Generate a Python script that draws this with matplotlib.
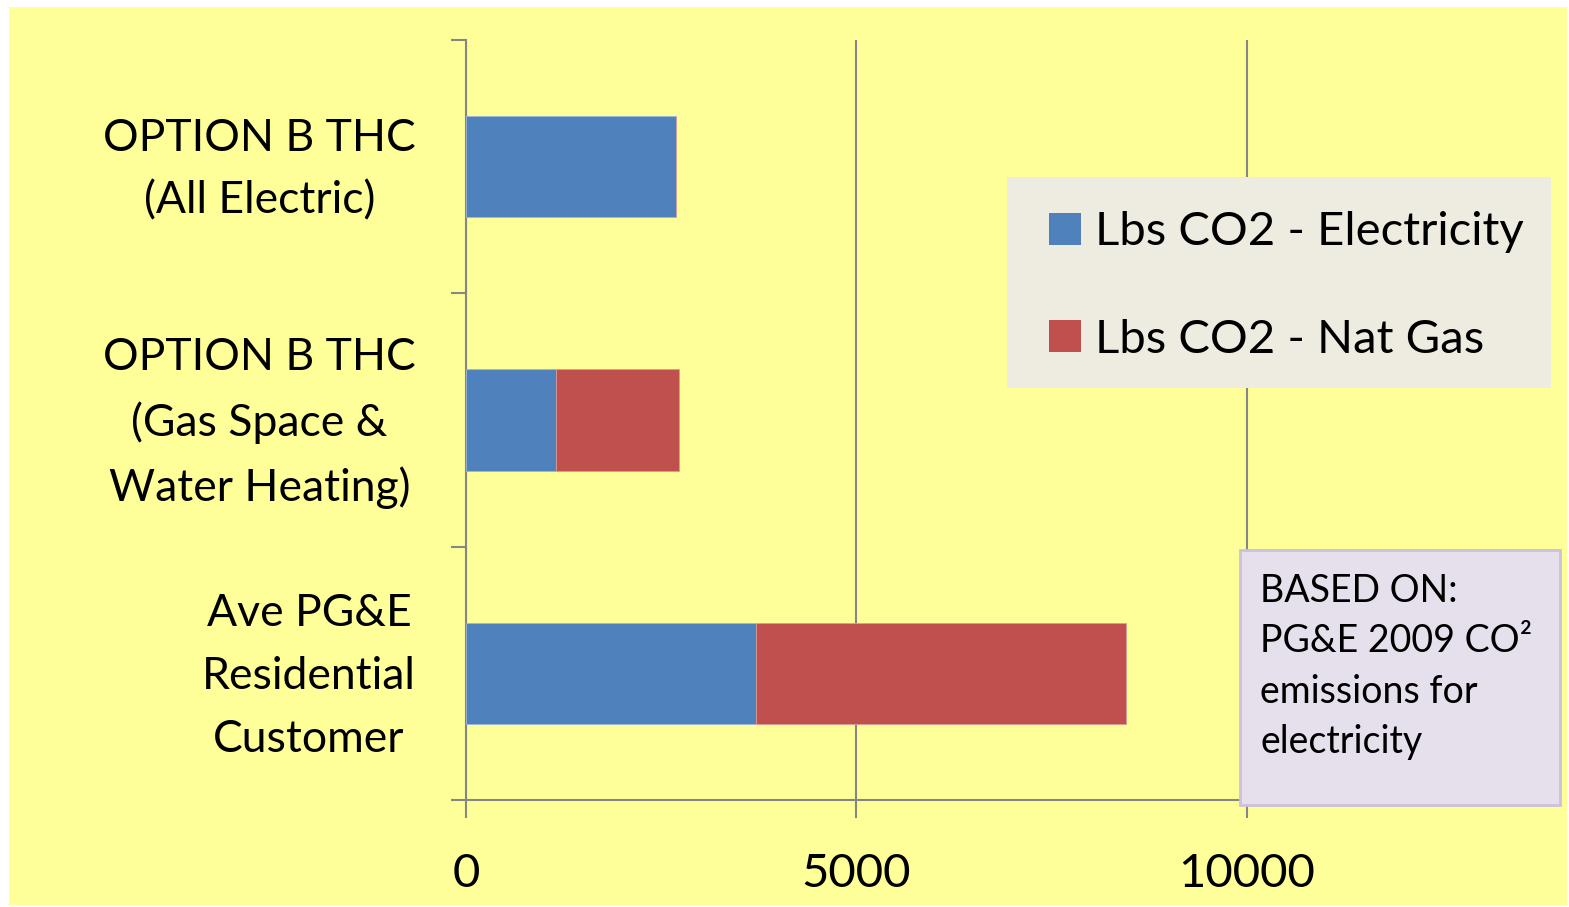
import matplotlib.pyplot as plt
from matplotlib.patches import Rectangle, Patch
from matplotlib.transforms import ScaledTranslation

# data
categories = ['OPTION B THC\n(All Electric)',
              'OPTION B THC\n(Gas Space &\nWater Heating)',
              'Ave PG&E\nResidential\nCustomer']
electricity = [2690, 1150, 3710]
nat_gas = [0, 1580, 4740]
series_names = ['Lbs CO2 - Electricity', 'Lbs CO2 - Nat Gas']
x_ticks = [0, 5000, 10000]

blue = '#4F81BD'
red = '#C0504D'
yellow = '#FFFF99'
axis_gray = '#868686'

plt.rcParams['font.family'] = ['Lato', 'DejaVu Sans']

W, H = 1569, 907
fig = plt.figure(figsize=(W / 100, H / 100), dpi=100, facecolor='white')

# yellow chart area
fig.patches.append(Rectangle((9 / W, 1 - 905 / H), (1567 - 9) / W, (905 - 7) / H,
                             transform=fig.transFigure, facecolor=yellow,
                             edgecolor='none', zorder=-1))

ax = fig.add_axes([466 / W, 1 - 800 / H, (1403 - 466) / W, (800 - 40) / H])
ax.set_facecolor('none')

y = list(range(len(categories)))
ax.barh(y, electricity, height=0.4, color=blue, edgecolor='#9DB7DB', linewidth=0.6, zorder=3)
ax.barh(y, nat_gas, left=electricity, height=0.4, color=red, edgecolor='#DB9A98',
        linewidth=0.6, zorder=3)

ax.set_xlim(0, 12000)
ax.set_ylim(2.5, -0.5)

# x axis
ax.set_xticks(x_ticks)
ax.set_xticklabels([str(v) for v in x_ticks])
ax.tick_params(axis='x', length=13, width=1.5, color=axis_gray, pad=25.5, labelsize=34)
ax.grid(axis='x', color=axis_gray, linewidth=1.5, zorder=0)

# y axis: boundary ticks + centered category labels
ax.set_yticks([-0.5, 0.5, 1.5, 2.5])
ax.set_yticklabels([])
ax.set_yticks(y, minor=True)
ax.set_yticklabels(categories, minor=True)
ax.tick_params(axis='y', which='major', length=11, width=1.5, color=axis_gray)
ax.tick_params(axis='y', which='minor', length=0, pad=36, labelsize=32)
lift = ScaledTranslation(0, 0.12, fig.dpi_scale_trans)
for lbl in ax.get_yticklabels(minor=True):
    lbl.set_multialignment('center')
    lbl.set_linespacing(1.66)
    lbl.set_transform(lbl.get_transform() + lift)

for side in ['top', 'right']:
    ax.spines[side].set_visible(False)
for side in ['left', 'bottom']:
    ax.spines[side].set_color(axis_gray)
    ax.spines[side].set_linewidth(1.5)

# legend box
fig.patches.append(Rectangle((1007 / W, 1 - 388 / H), (1551 - 1007) / W, (388 - 177) / H,
                             transform=fig.transFigure, facecolor='#EEECE1',
                             edgecolor='none', zorder=4))
handles = [Patch(facecolor=blue), Patch(facecolor=red)]
fig.legend(handles, series_names, loc='center left',
           bbox_to_anchor=(1030 / W, 1 - 286 / H), frameon=False, fontsize=34,
           handlelength=0.68, handleheight=0.68, handletextpad=0.3,
           labelspacing=1.38, borderaxespad=0)

# note box
fig.patches.append(Rectangle((1240 / W, 1 - 805 / H), (1560 - 1240) / W, (805 - 550) / H,
                             transform=fig.transFigure, facecolor='#E5E0EC',
                             edgecolor='#CCC1DA', linewidth=2, zorder=4))
fig.text(1260 / W, 1 - 573 / H, 'BASED ON:\nPG&E 2009 CO²\nemissions for\nelectricity',
         ha='left', va='top', fontsize=27, linespacing=1.5, zorder=5)

fig.savefig('out.png', dpi=100, facecolor='white')
